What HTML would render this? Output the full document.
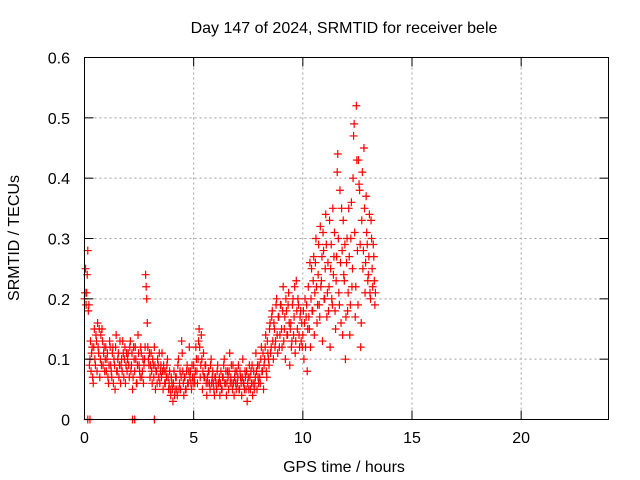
<!DOCTYPE html>
<html><head><meta charset="utf-8"><style>
body{margin:0;background:#fff;}
svg{display:block;font-family:"Liberation Sans",sans-serif;font-size:16px;}
</style></head><body>
<svg id="chart" width="640" height="480">
<rect x="0" y="0" width="640" height="480" fill="#fff"/>
<g id="grid"></g>
<g id="marks"></g>
<rect x="84.5" y="57.5" width="524" height="362" fill="none" stroke="#000"/>
<g id="ticks"></g>
<text x="344" y="33" text-anchor="middle">Day 147 of 2024, SRMTID for receiver bele</text>
<text x="344" y="472" text-anchor="middle">GPS time / hours</text>
<text x="0" y="0" text-anchor="middle" transform="translate(19,238) rotate(-90)">SRMTID / TECUs</text>
</svg>
<script>
const xTicks=[0,5,10,15,20];
const yTicks=[0,0.1,0.2,0.3,0.4,0.5,0.6];
const yTickLabels=["0","0.1","0.2","0.3","0.4","0.5","0.6"];
const tStart=0, tStep=0.05;
const values=[
0.20,0.25,0.21,0.28,0.19,0.10,0.08,0.12,0.06,0.15,0.09,0.13,0.16,0.11,0.07,0.14,0.15,0.09,0.12,0.10,
0.08,0.11,0.06,0.13,0.09,0.07,0.12,0.10,0.05,0.14,0.08,0.11,0.09,0.06,0.10,0.13,0.07,0.12,0.09,0.08,
0.11,0.07,0.13,0.09,0.05,0.12,0.08,0.10,0.06,0.14,0.09,0.07,0.11,0.08,0.06,0.10,0.24,0.20,0.12,0.09,
0.07,0.11,0.06,0.09,0.12,0.05,0.08,0.10,0.07,0.06,0.09,0.11,0.05,0.08,0.06,0.07,0.10,0.05,0.08,0.04,
0.06,0.03,0.08,0.05,0.07,0.04,0.10,0.06,0.05,0.13,0.08,0.04,0.07,0.05,0.09,0.06,0.12,0.08,0.05,0.07,
0.09,0.06,0.12,0.08,0.10,0.15,0.07,0.14,0.05,0.11,0.07,0.09,0.04,0.06,0.08,0.05,0.10,0.07,0.06,0.04,
0.07,0.05,0.09,0.06,0.04,0.08,0.05,0.07,0.10,0.06,0.04,0.08,0.05,0.11,0.07,0.06,0.09,0.04,0.08,0.05,
0.06,0.09,0.05,0.07,0.04,0.10,0.06,0.08,0.05,0.03,0.07,0.09,0.05,0.06,0.04,0.08,0.06,0.11,0.05,0.07,
0.09,0.06,0.12,0.08,0.05,0.10,0.14,0.07,0.11,0.09,0.16,0.12,0.18,0.10,0.15,0.13,0.20,0.11,0.17,0.14,
0.19,0.12,0.22,0.15,0.10,0.18,0.14,0.21,0.09,0.16,0.13,0.20,0.17,0.11,0.23,0.15,0.19,0.12,0.18,0.16,
0.14,0.10,0.20,0.17,0.08,0.22,0.15,0.12,0.25,0.18,0.27,0.21,0.30,0.16,0.24,0.19,0.32,0.23,0.13,0.28,
0.20,0.34,0.17,0.26,0.22,0.12,0.29,0.19,0.24,0.31,0.15,0.27,0.44,0.21,0.38,0.16,0.28,0.33,0.23,0.10,
0.26,0.18,0.35,0.14,0.30,0.22,0.40,0.49,0.17,0.52,0.28,0.43,0.38,0.12,0.33,0.25,0.45,0.21,0.37,0.29,
0.24,0.34,0.20,0.30,0.22,0.27,0.19];
const values2=[
0.21,0.19,0.24,0.18,0.09,0.13,0.11,0.07,0.12,0.10,0.14,0.08,0.12,0.15,0.10,0.09,0.13,0.11,0.08,0.12,
0.10,0.07,0.09,0.12,0.08,0.11,0.06,0.09,0.12,0.08,0.10,0.07,0.13,0.09,0.08,0.11,0.10,0.06,0.11,0.10,
0.09,0.12,0.08,0.11,0.07,0.10,0.12,0.06,0.09,0.11,0.08,0.12,0.07,0.10,0.09,0.12,0.22,0.16,0.10,0.11,
0.09,0.08,0.10,0.07,0.09,0.08,0.06,0.09,0.11,0.08,0.07,0.08,0.09,0.06,0.08,0.09,0.07,0.06,0.05,0.07,
0.05,0.06,0.04,0.07,0.05,0.09,0.05,0.08,0.07,0.11,0.06,0.07,0.05,0.08,0.06,0.08,0.07,0.06,0.09,0.06,
0.07,0.08,0.10,0.06,0.13,0.12,0.09,0.10,0.08,0.07,0.09,0.06,0.07,0.08,0.06,0.09,0.06,0.08,0.05,0.07,
0.06,0.08,0.06,0.07,0.06,0.05,0.07,0.09,0.06,0.08,0.06,0.07,0.08,0.06,0.09,0.05,0.06,0.07,0.06,0.08,
0.07,0.05,0.08,0.06,0.07,0.06,0.05,0.07,0.08,0.06,0.05,0.07,0.08,0.09,0.06,0.05,0.07,0.08,0.09,0.06,
0.07,0.10,0.08,0.11,0.09,0.12,0.08,0.13,0.10,0.15,0.11,0.17,0.13,0.16,0.12,0.19,0.14,0.17,0.12,0.19,
0.15,0.18,0.13,0.17,0.20,0.14,0.19,0.16,0.15,0.12,0.19,0.14,0.22,0.13,0.18,0.20,0.14,0.17,0.13,0.12,
0.18,0.16,0.12,0.19,0.15,0.17,0.26,0.20,0.18,0.23,0.14,0.26,0.22,0.19,0.29,0.17,0.22,0.27,0.31,0.20,
0.25,0.29,0.21,0.18,0.33,0.25,0.20,0.35,0.27,0.18,0.23,0.41,0.30,0.19,0.26,0.35,0.14,0.24,0.29,0.17,
0.30,0.21,0.27,0.19,0.36,0.25,0.47,0.31,0.22,0.43,0.19,0.39,0.29,0.16,0.41,0.28,0.35,0.26,0.31,0.23,
0.27,0.21,0.33,0.25,0.29,0.23,0.21];
const zeroTimes=[0.15,0.25,2.2,2.3,3.2];
const zeroValues=[0,0,0,0,0];
const X=t=>84.5+t*(524/24);
const Y=v=>419.5-v*(362/0.6);
const NS="http://www.w3.org/2000/svg";
const grid=document.getElementById('grid'),ticks=document.getElementById('ticks'),marks=document.getElementById('marks');
function mk(tag,attrs,parent){const e=document.createElementNS(NS,tag);for(const k in attrs)e.setAttribute(k,attrs[k]);parent.appendChild(e);return e;}
xTicks.forEach(t=>{
 const x=X(t);
 if(t>0){const g=mk('line',{x1:x,y1:57.5,x2:x,y2:419.5,stroke:'#a0a0a0','stroke-dasharray':'2,3'},grid);
 
 }
 mk('line',{x1:x,y1:419.5,x2:x,y2:410.5,stroke:'#000'},ticks);
 mk('line',{x1:x,y1:57.5,x2:x,y2:66.5,stroke:'#000'},ticks);
 const l=mk('text',{x:x,y:443,'text-anchor':'middle'},ticks);l.textContent=t;
 
 
});
yTicks.forEach((v,i)=>{
 const y=Y(v);
 if(i>0&&i<yTicks.length-1){const g=mk('line',{x1:84.5,y1:y,x2:608.5,y2:y,stroke:'#a0a0a0','stroke-dasharray':'2,3'},grid);
 
 }
 mk('line',{x1:84.5,y1:y,x2:93.5,y2:y,stroke:'#000'},ticks);
 mk('line',{x1:608.5,y1:y,x2:599.5,y2:y,stroke:'#000'},ticks);
 const l=mk('text',{x:70,y:y+6,'text-anchor':'end'},ticks);l.textContent=yTickLabels[i];
 
 
});
function plus(t,v){
 const x=X(t),y=Y(v);
 const p=mk('path',{d:`M${x-4},${y}H${x+4}M${x},${y-4}V${y+4}`,stroke:'#f00','stroke-width':1.2,fill:'none'},marks);
 
 
}
values.forEach((v,i)=>plus(tStart+i*tStep,v));
values2.forEach((v,i)=>plus(tStart+i*tStep+tStep/2,v));
zeroTimes.forEach((t,i)=>plus(t,zeroValues[i]));
</script>
</body></html>
